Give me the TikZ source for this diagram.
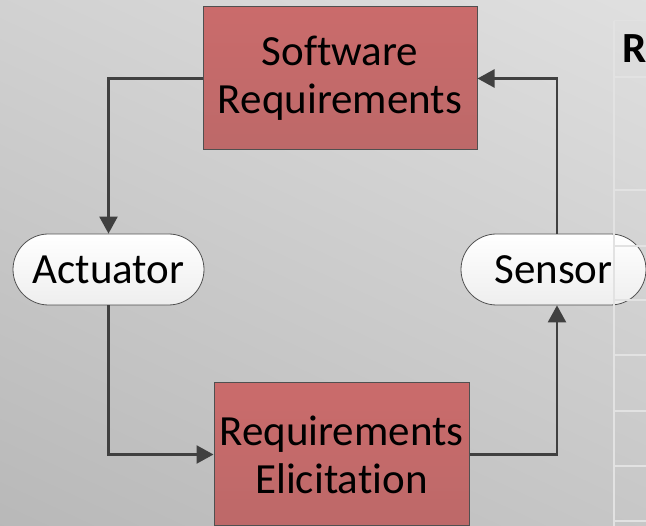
\documentclass[tikz,border=0pt]{standalone}
\usepackage{fontspec}
\setmainfont{Carlito}[Ligatures=NoCommon]
\usetikzlibrary{arrows.meta}
\usetikzlibrary{shapes.misc}
\definecolor{bgtop}{HTML}{E0E0E0}
\definecolor{bgbot}{HTML}{B8B8B8}
\definecolor{redtop}{HTML}{CA6B6B}
\definecolor{redbot}{HTML}{BD6969}
\definecolor{edgegray}{HTML}{505050}
\definecolor{linegray}{HTML}{404040}
\definecolor{pillbot}{HTML}{EEEEEE}
\definecolor{gridgray}{HTML}{E2E2E2}

\begin{document}
\begin{tikzpicture}[x=1pt,y=1pt,
  reqbox/.style={draw=edgegray,line width=1pt,top color=redtop,bottom color=redbot,
    inner sep=0pt,minimum height=143pt,align=center,font=\fontsize{43}{48}\selectfont},
  pill/.style={rounded rectangle,draw=edgegray,line width=0.8pt,top color=white,bottom color=pillbot,
    inner sep=0pt,minimum height=71pt,font=\fontsize{43}{48}\selectfont},
  link/.style={draw=linegray,line width=2.4pt,-{Triangle[length=17pt,width=18pt]}}]
  \useasboundingbox (0,0) rectangle (646,526);
  \clip (0,0) rectangle (646,526);
  % background
  \shade[top color=bgtop,bottom color=bgbot,shading angle=-25] (-100,-100) rectangle (746,626);
  % the loop
  \node[reqbox,minimum width=274pt] (sw) at (340,447.5) {Software\\Requirements};
  \node[reqbox,minimum width=255pt] (re) at (341.5,71.5) {Requirements\\Elicitation};
  \node[pill,minimum width=191pt] (act) at (108.5,256.5) {Actuator};
  \node[pill,minimum width=185pt] (sen) at (553.5,256.5) {Sensor};
  \draw[link] (sw.west) -| (act.north);
  \draw[link] (act.south) |- (re.west);
  \draw[link] (re.east) -| ([xshift=3.5pt]sen.south);
  \draw[link] ([xshift=3.5pt]sen.north) |- (sw.east);
  % table at the right edge
  \draw[gridgray,line width=1.8pt] (614,505) -- (614,0);
  \foreach \y in {449,336,280,226,171,115,60,5}
    \draw[gridgray,line width=1.8pt] (614,\y) -- (646,\y);
  \draw[gridgray!60!bgtop,line width=1pt] (614,505) -- (646,505);
  \node[anchor=base west,inner sep=0pt,font=\fontsize{43}{48}\selectfont\bfseries] (hdr) at (622,463) {R};
\end{tikzpicture}
\end{document}
